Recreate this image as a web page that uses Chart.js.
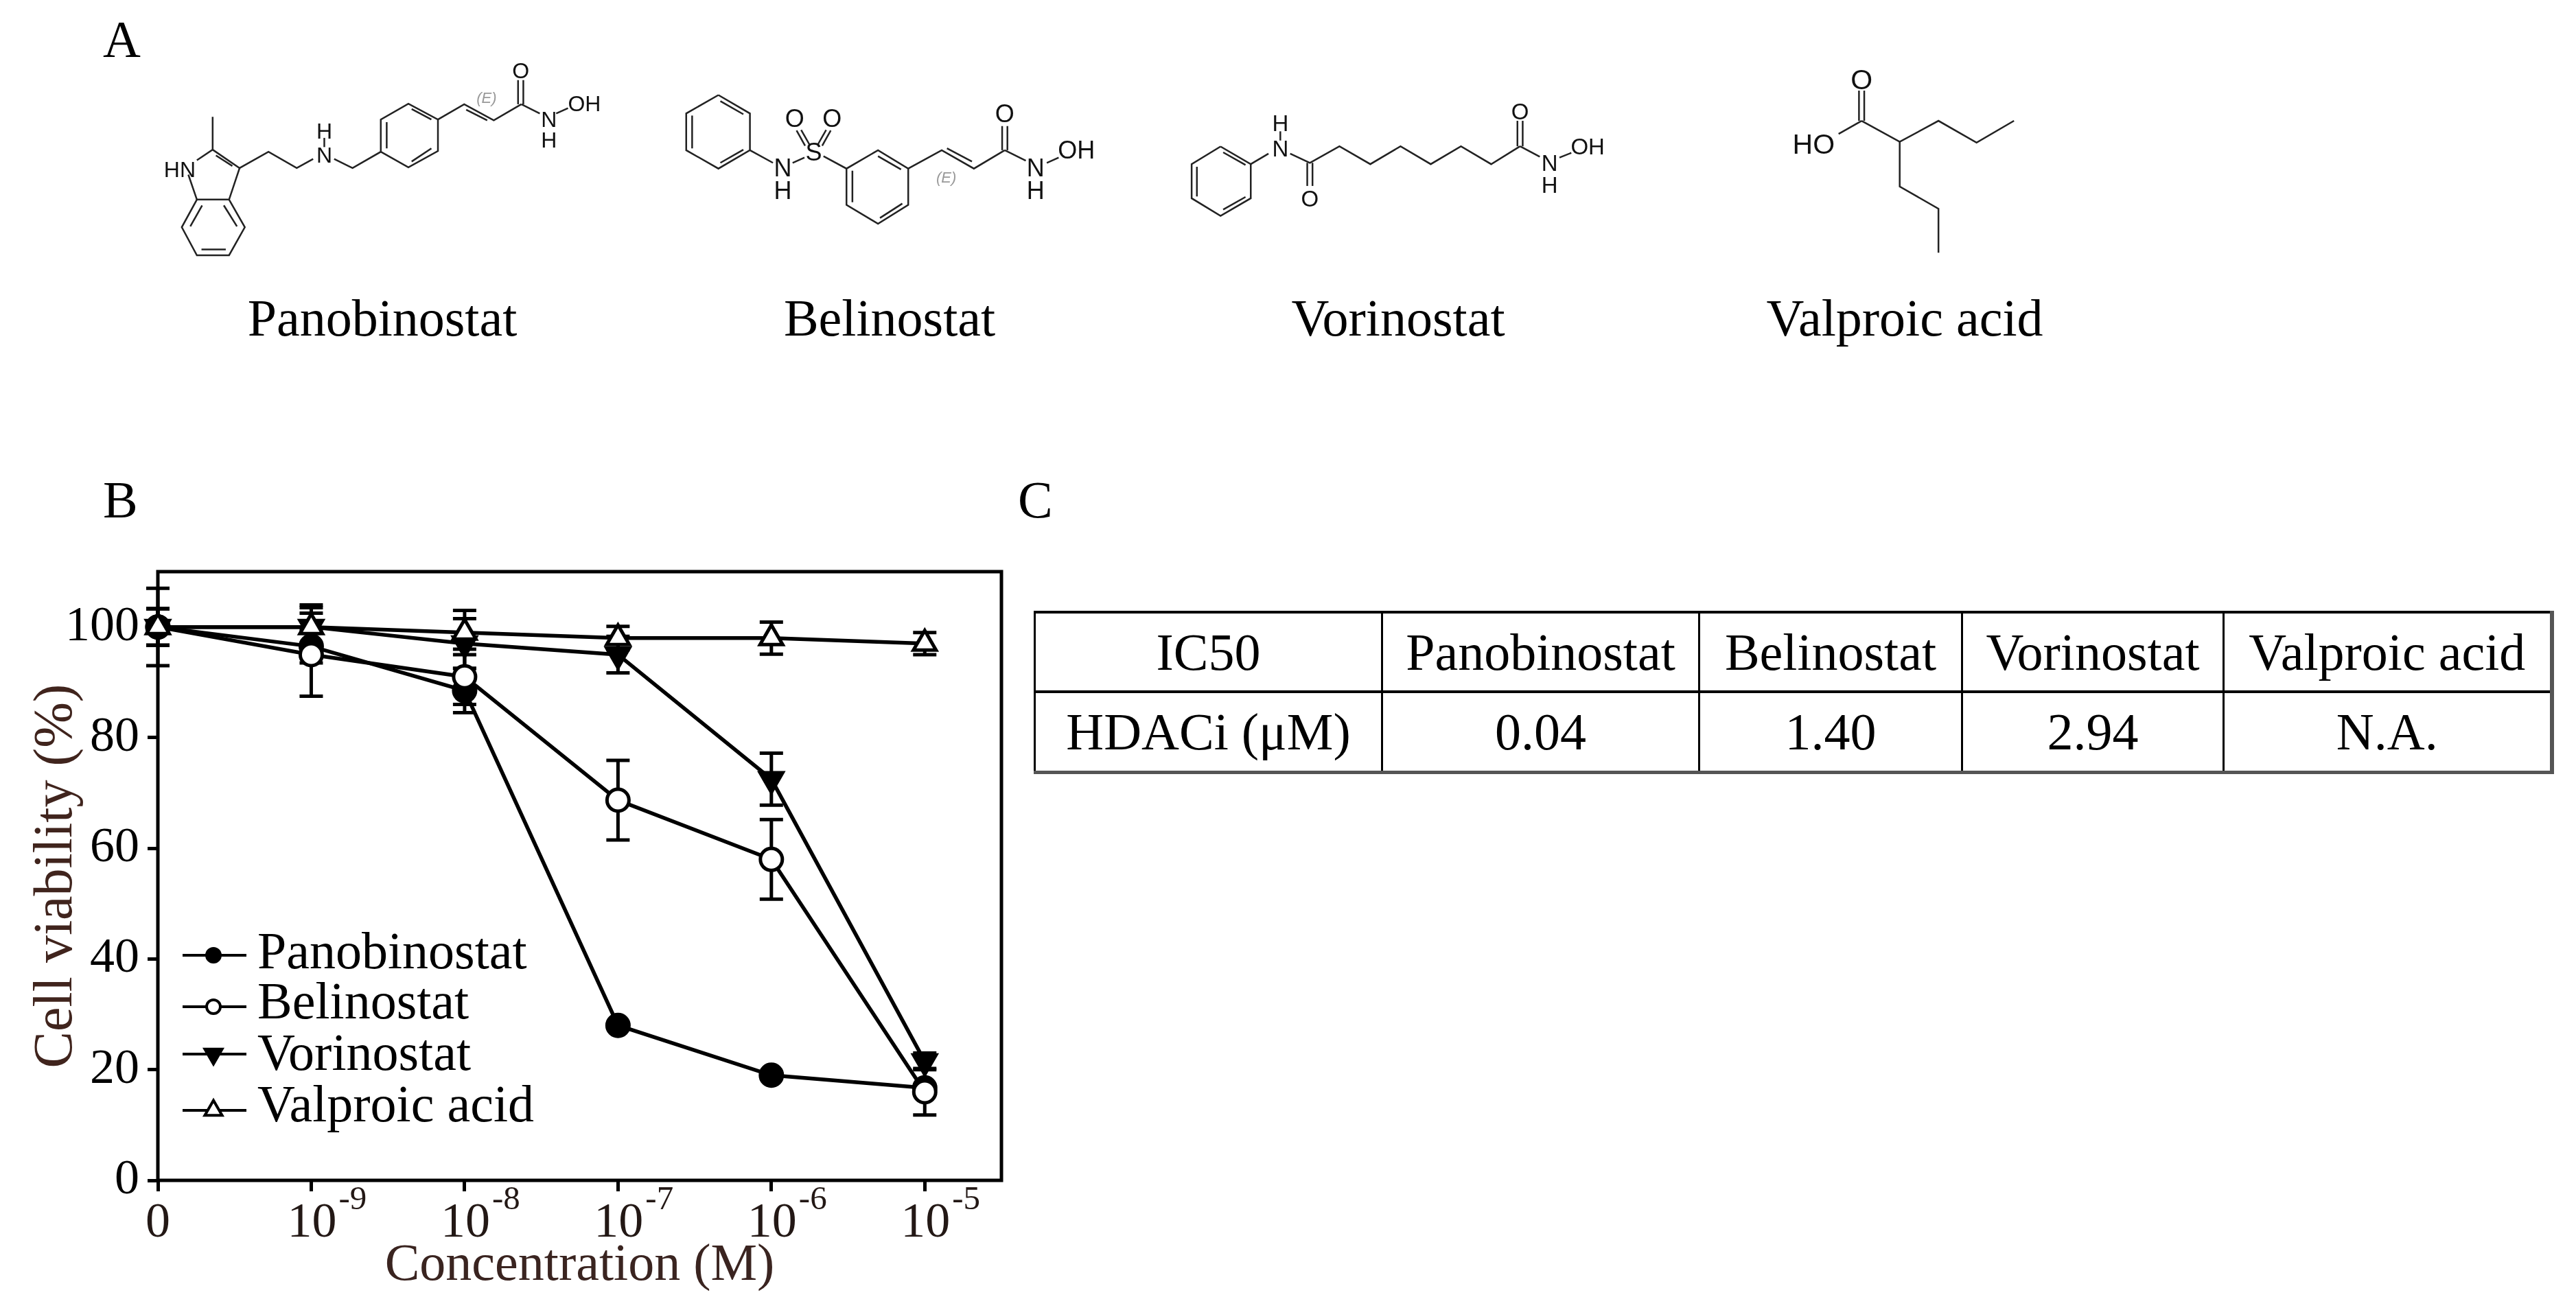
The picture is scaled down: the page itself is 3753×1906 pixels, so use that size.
<!DOCTYPE html>
<html>
<head>
<meta charset="utf-8">
<title>HDAC inhibitors</title>
<script src="https://cdn.jsdelivr.net/npm/chart.js@4/dist/chart.umd.min.js"></script>
<style>
  html, body { margin: 0; padding: 0; background: #fff; overflow: hidden; }
  body { width: 3753px; height: 1906px; position: relative; font-family: "Liberation Serif", serif; color: #000; }
  canvas#viability { position: absolute; left: 0; top: 0; }
  svg#structures { position: absolute; left: 0; top: 0; }
  .panel, .drug { position: absolute; font-size: 76px; line-height: 76px; white-space: nowrap; }
  .drug { transform: translateX(-50%); }
  table { position: absolute; left: 1506px; top: 890px; width: 2210px; height: 238px; border-collapse: collapse; table-layout: fixed; font-size: 76px; }
  td { border: 3px solid #000; border-top-width: 4px; border-bottom-width: 4px; text-align: center; padding: 0; white-space: nowrap; }
  tr:last-child td { border-bottom: 5px solid #555; }
  td:last-child { border-right: 6px solid #555; }
</style>
</head>
<body>

<canvas id="viability" width="3753" height="1906"></canvas>
<svg id="structures" width="3753" height="1906"></svg>

<div class="panel" style="left:150px;top:19px">A</div>
<div class="panel" style="left:150px;top:690px">B</div>
<div class="panel" style="left:1483px;top:690px">C</div>

<div class="drug" style="left:557px;top:425px">Panobinostat</div>
<div class="drug" style="left:1296px;top:425px">Belinostat</div>
<div class="drug" style="left:2037px;top:425px">Vorinostat</div>
<div class="drug" style="left:2775px;top:425px">Valproic acid</div>

<table id="ic50"></table>

<script>
// viability curves
const doseIndex = [0, 1, 2, 3, 4, 5];
const doseBase = ["0", "10", "10", "10", "10", "10"];
const doseExp = ["", "-9", "-8", "-7", "-6", "-5"];

const panobinostat = [100, 96.5, 88.5, 28, 19, 16.7];
const panobinostatErr = [3.3, 3, 4, 0.5, 0.5, 0.5];
const belinostat = [100, 95, 91, 68.7, 58, 16];
const belinostatErr = [7, 7.5, 5, 7.2, 7.2, 4.2];
const vorinostat = [100, 100, 97, 95, 72.5, 21.5];
const vorinostatErr = [3.3, 3.5, 4.5, 3.3, 4.7, 1.5];
const valproic = [100, 100, 99, 98, 98, 97];
const valproicErr = [3.3, 4, 4, 2.1, 2.9, 2];

const seriesNames = ["Panobinostat", "Belinostat", "Vorinostat", "Valproic acid"];

// table C
const tableHead = ["IC50", "Panobinostat", "Belinostat", "Vorinostat", "Valproic acid"];
const tableRow = ["HDACi (μM)", "0.04", "1.40", "2.94", "N.A."];
const tableWidths = [506, 462, 383, 381, 478];

const serif = "Liberation Serif";

function pts(values) {
  return values.map((v, i) => ({ x: doseIndex[i], y: v }));
}

function curve(label, values, errs, fill, style, rotation, order) {
  return {
    label: label,
    data: pts(values),
    errs: errs,
    clip: false,
    borderColor: "#000",
    borderWidth: 5.5,
    tension: 0,
    pointStyle: style,
    pointRotation: rotation,
    pointRadius: style === "triangle" ? 19 : 16,
    pointBorderWidth: 5,
    pointBorderColor: "#000",
    pointBackgroundColor: fill,
    order: order
  };
}

// error bars go under the markers
const errorBars = {
  id: "errorBars",
  beforeDatasetsDraw(chart) {
    const ctx = chart.ctx;
    const sx = chart.scales.x, sy = chart.scales.y;
    ctx.save();
    ctx.strokeStyle = "#000";
    ctx.lineWidth = 5;
    chart.data.datasets.forEach(ds => {
      ds.data.forEach((p, i) => {
        const px = sx.getPixelForValue(p.x);
        const hi = sy.getPixelForValue(p.y + ds.errs[i]);
        const lo = sy.getPixelForValue(p.y - ds.errs[i]);
        ctx.beginPath();
        ctx.moveTo(px, hi); ctx.lineTo(px, lo);
        ctx.moveTo(px - 17, hi); ctx.lineTo(px + 17, hi);
        ctx.moveTo(px - 17, lo); ctx.lineTo(px + 17, lo);
        ctx.stroke();
      });
    });
    ctx.restore();
  }
};

// frame goes under the curves so the markers at zero sit on top of it
const frame = {
  id: "frame",
  beforeDatasetsDraw(chart) {
    const ctx = chart.ctx;
    const a = chart.chartArea;
    ctx.save();
    ctx.strokeStyle = "#000";
    ctx.lineWidth = 5;
    ctx.strokeRect(a.left, a.top, a.right - a.left, a.bottom - a.top);
    ctx.restore();
  }
};

// 10^n tick labels and the line+marker legend
const extras = {
  id: "extras",
  afterDraw(chart) {
    const ctx = chart.ctx;
    const sx = chart.scales.x;
    ctx.save();
    ctx.fillStyle = "#231815";
    ctx.textBaseline = "alphabetic";
    doseIndex.forEach(i => {
      const px = sx.getPixelForValue(i);
      if (doseExp[i] === "") {
        ctx.textAlign = "center";
        ctx.font = "72px '" + serif + "'";
        ctx.fillText(doseBase[i], px, 1802);
      } else {
        ctx.textAlign = "left";
        ctx.font = "72px '" + serif + "'";
        ctx.fillText(doseBase[i], px - 35, 1802);
        ctx.font = "49px '" + serif + "'";
        ctx.fillText(doseExp[i], px + 40, 1762);
      }
    });

    const legendY = [1392, 1467, 1536, 1618];
    const legendBase = [1411, 1484, 1559, 1634];
    chart.data.datasets.forEach((ds, i) => {
      ctx.beginPath();
      ctx.moveTo(266, legendY[i]);
      ctx.lineTo(359, legendY[i]);
      ctx.lineWidth = 4;
      ctx.strokeStyle = "#000";
      ctx.stroke();
      ctx.fillStyle = ds.pointBackgroundColor;
      ctx.lineWidth = 4;
      Chart.helpers.drawPoint(ctx, {
        pointStyle: ds.pointStyle,
        rotation: ds.pointRotation,
        radius: ds.pointStyle === "triangle" ? 14.5 : 10,
        borderWidth: 4
      }, 311, legendY[i]);
      ctx.fillStyle = "#000";
      ctx.textAlign = "left";
      ctx.textBaseline = "alphabetic";
      ctx.font = "76px '" + serif + "'";
      ctx.fillText(ds.label, 375, legendBase[i]);
    });
    ctx.restore();
  }
};

new Chart(document.getElementById("viability"), {
  type: "line",
  data: {
    datasets: [
      curve(seriesNames[0], panobinostat, panobinostatErr, "#000", "circle", 0, 4),
      curve(seriesNames[1], belinostat, belinostatErr, "#fff", "circle", 0, 3),
      curve(seriesNames[2], vorinostat, vorinostatErr, "#000", "triangle", 180, 2),
      curve(seriesNames[3], valproic, valproicErr, "#fff", "triangle", 0, 1)
    ]
  },
  options: {
    responsive: false,
    animation: false,
    devicePixelRatio: 1,
    layout: { padding: { top: 833, right: 3753 - 1459 } },
    plugins: { legend: { display: false }, tooltip: { enabled: false } },
    scales: {
      x: {
        type: "linear",
        min: 0,
        max: 5.5,
        afterFit: s => { s.height = 1906 - 1720; },
        border: { display: false },
        grid: { drawOnChartArea: false, drawTicks: true, tickLength: 16, tickWidth: 5, tickColor: "#000" },
        ticks: { stepSize: 1, includeBounds: false, display: false },
        title: {
          display: true,
          text: "Concentration (M)",
          color: "#3a2420",
          font: { family: serif, size: 76 },
          padding: { top: 0, bottom: 15 }
        }
      },
      y: {
        min: 0,
        max: 110,
        afterFit: s => { s.width = 230; },
        border: { display: false },
        grid: { drawOnChartArea: false, drawTicks: true, tickLength: 15, tickWidth: 5, tickColor: "#000" },
        ticks: {
          stepSize: 20,
          includeBounds: false,
          color: "#000",
          padding: 12,
          font: { family: serif, size: 72 }
        },
        title: {
          display: true,
          text: "Cell viability (%)",
          color: "#40241d",
          font: { family: serif, size: 80 },
          padding: { top: 35, bottom: 0 }
        }
      }
    }
  },
  plugins: [frame, errorBars, extras]
});

// table C
const table = document.getElementById("ic50");
const colgroup = document.createElement("colgroup");
tableWidths.forEach(w => {
  const col = document.createElement("col");
  col.style.width = w + "px";
  colgroup.appendChild(col);
});
table.appendChild(colgroup);
[tableHead, tableRow].forEach(cells => {
  const tr = document.createElement("tr");
  cells.forEach(text => {
    const td = document.createElement("td");
    td.textContent = text;
    tr.appendChild(td);
  });
  table.appendChild(tr);
});

// panel A structures: bonds and atom labels, measured on the enlarged crops
const bondsLeft = [
  // Panobinostat
  [[167,445],[167,570],[143,610]], [[130,665],[143,760],[192,760],[208,640],[167,570]],
  [[172,592],[197,632]],
  [[143,760],[120,865],[143,972],[192,972],[216,865],[192,760]],
  [[151,782],[133,862]], [[184,782],[204,862]], [[150,950],[187,950]],
  [[208,640],[252,578],[295,640],[320,605]], [[337,525],[337,560]],
  [[352,605],[380,640],[423,578],[423,455],[465,395],[510,455],[510,575],[465,637],[423,578]],
  [[432,565],[432,465]], [[470,415],[500,455]], [[500,565],[470,615]],
  [[510,455],[550,397],[595,458],[637,397]], [[553,418],[585,458]],
  [[632,397],[632,305]], [[640,397],[640,305]],
  [[637,397],[665,432]], [[690,432],[708,412]],
  // Belinostat
  [[937,362],[985,432],[985,572],[937,642],[888,572],[888,432],[937,362]],
  [[940,385],[975,435]], [[897,440],[897,565]], [[975,570],[940,620]],
  [[985,572],[1020,620]], [[1050,620],[1068,600]],
  [[1076,552],[1063,495]], [[1069,555],[1056,497]],
  [[1088,552],[1101,495]], [[1095,555],[1108,497]],
  [[1097,595],[1132,642],[1180,572],[1226,642],[1226,780],[1180,852],[1132,780],[1132,642]],
  [[1180,595],[1215,645]], [[1217,775],[1183,830]], [[1141,650],[1141,770]],
  [[1226,642],[1277,572],[1326,642],[1373,572]], [[1285,565],[1323,615]],
  [[1369,572],[1369,480]], [[1377,572],[1377,480]],
  [[1373,572],[1405,612]], [[1437,620],[1455,600]]
];
const bondsRight = [
  // Vorinostat
  [[134,558],[180,625],[180,755],[134,822],[90,755],[90,625],[134,558]],
  [[138,580],[172,628]], [[98,635],[98,748]], [[172,750],[138,798]],
  [[180,625],[207,585]], [[225,500],[225,535]],
  [[240,585],[270,620],[315,557],[362,625],[408,557],[454,625],[500,557],[546,625],[590,557]],
  [[266,620],[266,708]], [[274,620],[274,708]],
  [[586,557],[586,460]], [[594,557],[594,460]],
  [[590,557],[620,597]], [[650,600],[668,582]],
  // Valproic acid
  [[1110,460],[1168,540],[1227,460],[1285,543],[1342,460]],
  [[1106,460],[1106,345]], [[1114,460],[1114,345]],
  [[1110,460],[1075,510]],
  [[1168,540],[1168,710],[1227,795],[1227,962]]
];
const atomsPano = [
  ["HN",117,645], ["H",337,498], ["N",337,590], ["O",636,268], ["N",679,455], ["H",679,533], ["OH",733,395]
];
const atomsBeli = [
  ["N",1035,640], ["H",1035,725], ["S",1082,578], ["O",1053,452], ["O",1110,452],
  ["O",1373,433], ["N",1420,640], ["H",1420,725], ["OH",1482,570]
];
const atomsVori = [
  ["H",225,470], ["N",225,565], ["O",270,757], ["O",590,425], ["N",635,620], ["H",635,705], ["OH",693,557]
];
const atomsValp = [["O",1110,302], ["HO",1037,550]];
const stereoLeft = [["(E)",584,372], ["(E)",1284,675]];

const svg = document.getElementById("structures");
const SVGNS = "http://www.w3.org/2000/svg";

// crop coordinates to page coordinates
const cropX = (x, ox) => ox + x / 1.045;
const cropY = y => y / 2.613;

function drawBonds(bonds, ox) {
  bonds.forEach(b => {
    const line = document.createElementNS(SVGNS, "polyline");
    line.setAttribute("points", b.map(p => cropX(p[0], ox) + "," + cropY(p[1])).join(" "));
    line.setAttribute("fill", "none");
    line.setAttribute("stroke", "#222");
    line.setAttribute("stroke-width", "2.5");
    svg.appendChild(line);
  });
}

function drawAtoms(atoms, ox, size, color, italic) {
  atoms.forEach(a => {
    const t = document.createElementNS(SVGNS, "text");
    t.textContent = a[0];
    t.setAttribute("x", cropX(a[1], ox));
    t.setAttribute("y", cropY(a[2]));
    t.setAttribute("text-anchor", "middle");
    t.setAttribute("dominant-baseline", "central");
    t.setAttribute("font-family", "Liberation Sans");
    t.setAttribute("font-size", size);
    t.setAttribute("fill", color);
    if (italic) t.setAttribute("font-style", "italic");
    svg.appendChild(t);
  });
}

drawBonds(bondsLeft, 150);
drawBonds(bondsRight, 1650);
drawAtoms(atomsPano, 150, 32, "#111", false);
drawAtoms(atomsBeli, 150, 36, "#111", false);
drawAtoms(atomsVori, 1650, 33, "#111", false);
drawAtoms(atomsValp, 1650, 41, "#111", false);
drawAtoms(stereoLeft, 150, 22, "#999", true);
</script>
</body>
</html>
